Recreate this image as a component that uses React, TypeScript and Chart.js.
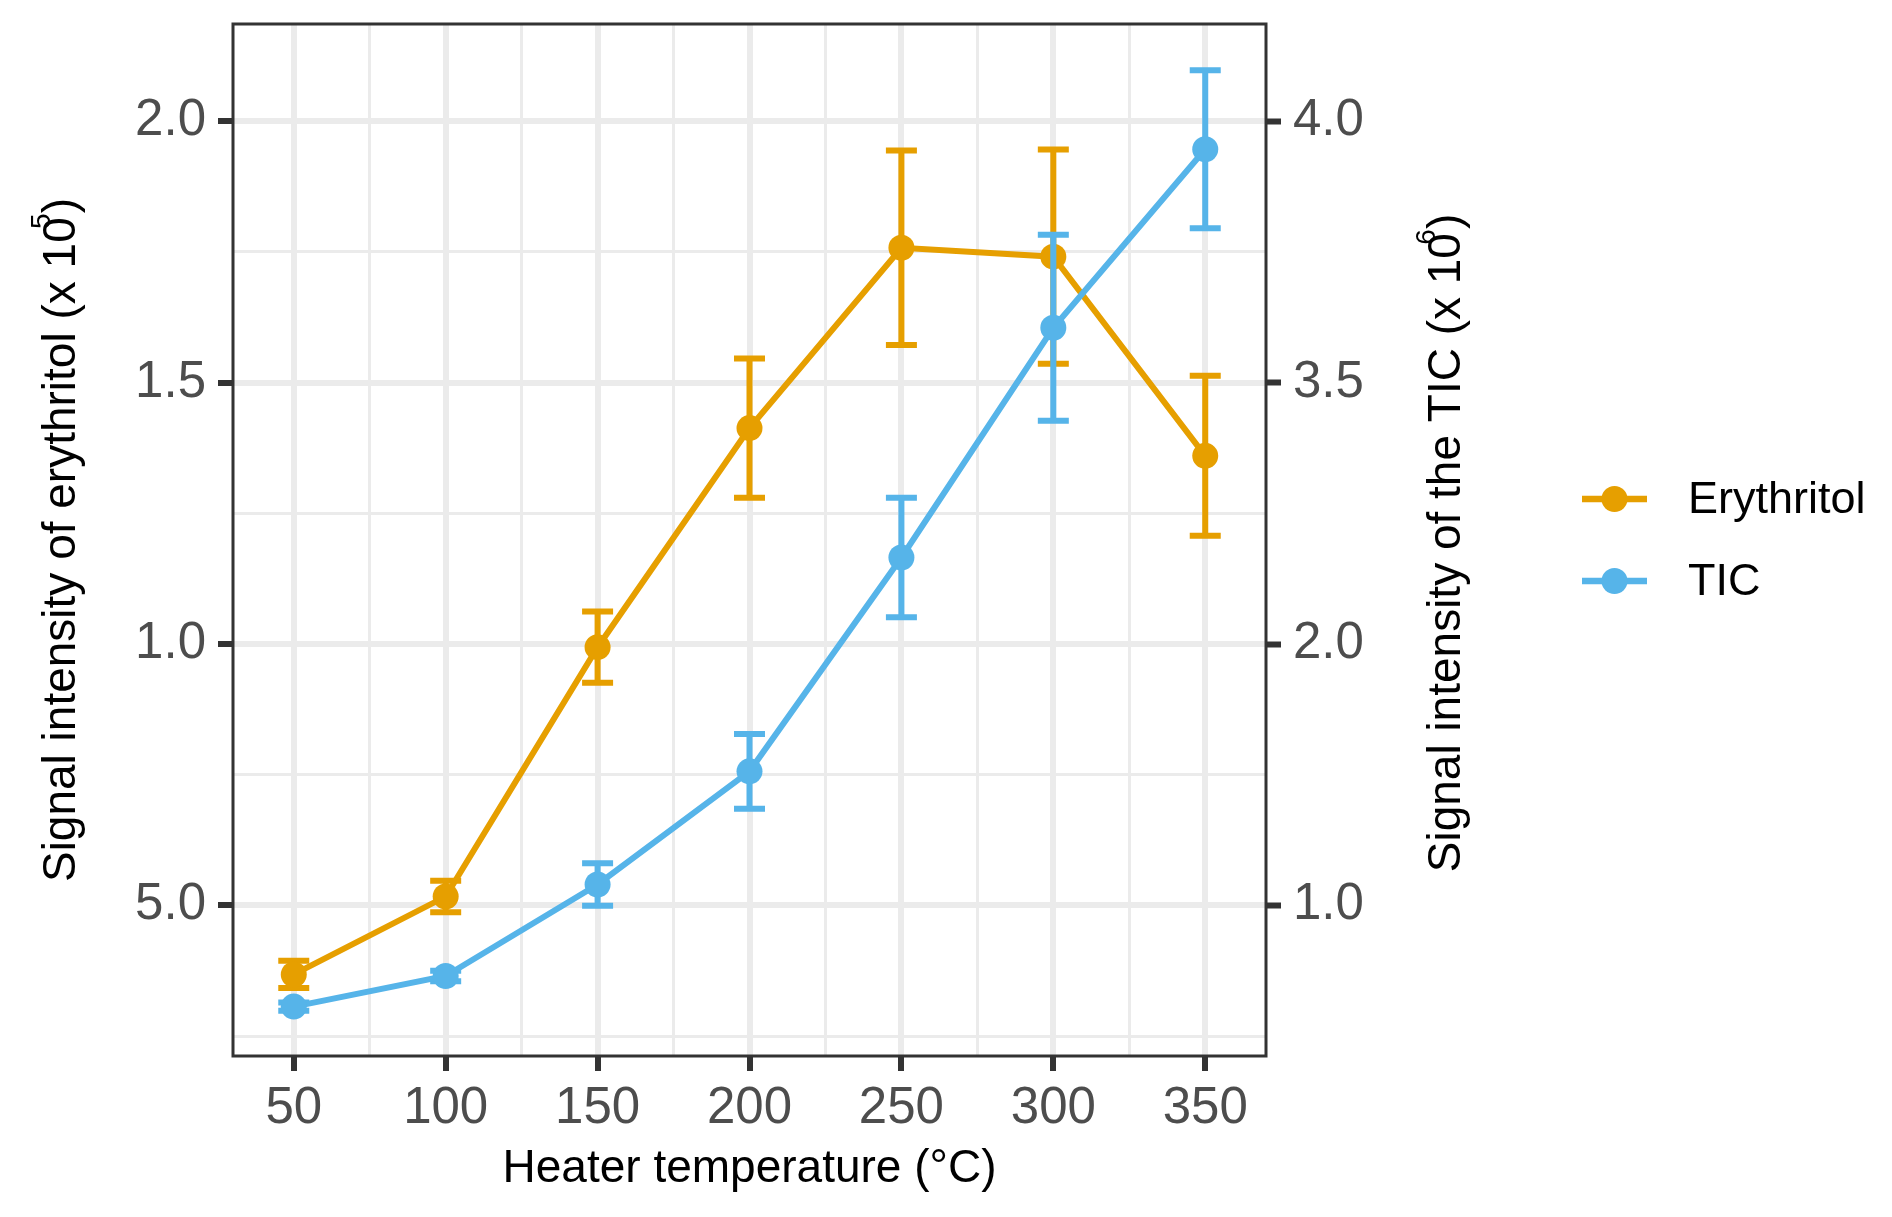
import React, { useEffect, useRef } from "react";
import { Chart, registerables } from "chart.js";

Chart.register(...registerables);

// ---- data ----
const temperatures = [50, 100, 150, 200, 250, 300, 350];
const erythritolMean = [0.368, 0.517, 0.994, 1.413, 1.758, 1.741, 1.36];
const erythritolErr = [0.026, 0.03, 0.068, 0.133, 0.186, 0.205, 0.153];
const ticMean = [0.613, 0.73, 1.08, 1.513, 2.331, 3.21, 3.893];
const ticErr = [0.016, 0.02, 0.081, 0.143, 0.229, 0.356, 0.302];

const seriesNames = ["Erythritol", "TIC"];
const seriesColors = ["#E69F00", "#56B4E9"];

// ---- ticks ----
const xTickValues = [50, 100, 150, 200, 250, 300, 350];
const xTickLabels = ["50", "100", "150", "200", "250", "300", "350"];
const xMinorValues = [75, 125, 175, 225, 275, 325];
const leftTickValues = [0.5, 1.0, 1.5, 2.0];
const leftTickLabels = ["5.0", "1.0", "1.5", "2.0"];
const leftMinorValues = [0.25, 0.75, 1.25, 1.75];
const rightTickValues = [1, 2, 3, 4];
const rightTickLabels = ["1.0", "2.0", "3.5", "4.0"];

const xTitle = "Heater temperature (°C)";
const leftTitle = ["Signal intensity of erythritol (x 10", "5", ")"];
const rightTitle = ["Signal intensity of the TIC (x 10", "6", ")"];

const X_MIN = 30;
const X_MAX = 370;
const LEFT_MIN = 0.212;
const LEFT_MAX = 2.186;
const SEC_FACTOR = 2;

const FONT = '"Liberation Sans", Arial, Helvetica, sans-serif';
const W = 1892;
const H = 1217;

function setTicks(major: number[], minor: number[]) {
  return (scale: any) => {
    scale.ticks = [...major, ...minor]
      .sort((a, b) => a - b)
      .map((v) => ({ value: v }));
  };
}

function labelFor(values: number[], labels: string[]) {
  return (value: any) => {
    const i = values.findIndex((v) => Math.abs(v - Number(value)) < 1e-9);
    return i >= 0 ? labels[i] : "";
  };
}

function isMajor(values: number[], ctx: any) {
  if (!ctx || !ctx.tick) return true;
  return values.some((v) => Math.abs(v - ctx.tick.value) < 1e-9);
}

function zeroPad(s: any) {
  s.paddingTop = 0;
  s.paddingBottom = 0;
  s.paddingLeft = 0;
  s.paddingRight = 0;
}

function drawRotatedTitle(
  ctx: CanvasRenderingContext2D,
  parts: string[],
  baselineX: number,
  centerY: number
) {
  const mainFont = `46px ${FONT}`;
  const supFont = `28px ${FONT}`;
  ctx.save();
  ctx.font = mainFont;
  const wMain = ctx.measureText(parts[0]).width;
  const wTail = ctx.measureText(parts[2]).width;
  ctx.font = supFont;
  const wSup = ctx.measureText(parts[1]).width;
  const gap = 4;
  const total = wMain + gap + wTail;
  ctx.translate(baselineX, centerY);
  ctx.rotate(-Math.PI / 2);
  ctx.textBaseline = "alphabetic";
  ctx.textAlign = "left";
  ctx.fillStyle = "#000000";
  const x = -total / 2;
  ctx.font = mainFont;
  ctx.fillText(parts[0], x, 0);
  ctx.font = supFont;
  ctx.fillText(parts[1], x + wMain - wSup * 0.75, -25);
  ctx.font = mainFont;
  ctx.fillText(parts[2], x + wMain + gap, 0);
  ctx.restore();
}

const errorBarPlugin = {
  id: "errorBars",
  beforeDatasetDraw(chart: any, args: any) {
    const ds = chart.data.datasets[args.index];
    const meta = chart.getDatasetMeta(args.index);
    const xs = chart.scales.x;
    const ys = chart.scales[meta.yAxisID];
    const ctx = chart.ctx;
    ctx.save();
    ctx.strokeStyle = ds.borderColor;
    ctx.lineWidth = 6;
    ctx.lineCap = "butt";
    ds.data.forEach((p: any, j: number) => {
      const e = ds.errors[j];
      const px = xs.getPixelForValue(p.x);
      const yTop = ys.getPixelForValue(p.y + e);
      const yBot = ys.getPixelForValue(p.y - e);
      ctx.beginPath();
      ctx.moveTo(px, yTop);
      ctx.lineTo(px, yBot);
      ctx.moveTo(px - 15.5, yTop);
      ctx.lineTo(px + 15.5, yTop);
      ctx.moveTo(px - 15.5, yBot);
      ctx.lineTo(px + 15.5, yBot);
      ctx.stroke();
    });
    ctx.restore();
  },
};

const decorPlugin = {
  id: "decor",
  afterDraw(chart: any) {
    const ctx: CanvasRenderingContext2D = chart.ctx;
    const a = chart.chartArea;
    // panel border
    ctx.save();
    ctx.strokeStyle = "#333333";
    ctx.lineWidth = 3;
    ctx.strokeRect(a.left, a.top, a.right - a.left, a.bottom - a.top);
    ctx.restore();

    // x title
    ctx.save();
    ctx.font = `46px ${FONT}`;
    ctx.fillStyle = "#000000";
    ctx.textAlign = "center";
    ctx.textBaseline = "alphabetic";
    ctx.fillText(xTitle, (a.left + a.right) / 2, 1182);
    ctx.restore();

    // y titles
    drawRotatedTitle(ctx, leftTitle, 75, 540);
    drawRotatedTitle(ctx, rightTitle, 1460, 543);

    // legend
    const lx = 1582;
    const ly = [499, 581];
    ctx.save();
    seriesNames.forEach((name, i) => {
      const y = ly[i];
      ctx.strokeStyle = seriesColors[i];
      ctx.lineWidth = 6.5;
      ctx.beginPath();
      ctx.moveTo(lx, y);
      ctx.lineTo(lx + 65, y);
      ctx.stroke();
      ctx.fillStyle = seriesColors[i];
      ctx.beginPath();
      ctx.arc(lx + 32.5, y, 13, 0, Math.PI * 2);
      ctx.fill();
      ctx.fillStyle = "#000000";
      ctx.font = `45px ${FONT}`;
      ctx.textAlign = "left";
      ctx.textBaseline = "middle";
      ctx.fillText(name, lx + 106, y + 2);
    });
    ctx.restore();
  },
};

export default function App() {
  const ref = useRef<HTMLCanvasElement | null>(null);

  useEffect(() => {
    document.body.style.margin = "0";
    const canvas = ref.current;
    if (!canvas) return;

    const tickFont = { family: FONT, size: 51 };
    const tickColor = "#4D4D4D";

    const makeDataset = (i: number, means: number[], errs: number[], axis: string, order: number) =>
      ({
        label: seriesNames[i],
        data: temperatures.map((t, j) => ({ x: t, y: means[j] })),
        errors: errs,
        yAxisID: axis,
        borderColor: seriesColors[i],
        backgroundColor: seriesColors[i],
        pointBackgroundColor: seriesColors[i],
        pointBorderWidth: 0,
        pointRadius: 13,
        pointHoverRadius: 13,
        borderWidth: 6,
        tension: 0,
        order,
      } as any);

    const chart = new Chart(canvas, {
      type: "line",
      data: {
        datasets: [
          makeDataset(0, erythritolMean, erythritolErr, "y", 2),
          makeDataset(1, ticMean, ticErr, "y2", 1),
        ],
      },
      options: {
        animation: false,
        responsive: false,
        events: [],
        layout: { padding: { top: 24, left: 0, right: 0, bottom: 0 } },
        plugins: {
          legend: { display: false },
          tooltip: { enabled: false },
          title: { display: false },
        },
        scales: {
          x: {
            type: "linear",
            position: "bottom",
            min: X_MIN,
            max: X_MAX,
            afterBuildTicks: setTicks(xTickValues, xMinorValues),
            afterFit: (s: any) => {
              s.height = H - 1056;
              zeroPad(s);
            },
            ticks: {
              callback: labelFor(xTickValues, xTickLabels),
              font: tickFont,
              color: tickColor,
              padding: 7,
              autoSkip: false,
              maxRotation: 0,
              minRotation: 0,
            },
            grid: {
              color: "#EBEBEB",
              lineWidth: (ctx: any) => (isMajor(xTickValues, ctx) ? 6 : 3),
              drawTicks: true,
              tickLength: 15,
              tickWidth: 6,
              tickColor: (ctx: any) =>
                isMajor(xTickValues, ctx) ? "#333333" : "rgba(0,0,0,0)",
            },
            border: { display: false },
          },
          y: {
            type: "linear",
            position: "left",
            min: LEFT_MIN,
            max: LEFT_MAX,
            afterBuildTicks: setTicks(leftTickValues, leftMinorValues),
            afterFit: (s: any) => {
              s.width = 233;
              zeroPad(s);
            },
            ticks: {
              callback: labelFor(leftTickValues, leftTickLabels),
              font: tickFont,
              color: tickColor,
              padding: 12,
              autoSkip: false,
            },
            grid: {
              color: "#EBEBEB",
              lineWidth: (ctx: any) => (isMajor(leftTickValues, ctx) ? 6 : 3),
              drawTicks: true,
              tickLength: 15,
              tickWidth: 6,
              tickColor: (ctx: any) =>
                isMajor(leftTickValues, ctx) ? "#333333" : "rgba(0,0,0,0)",
            },
            border: { display: false },
          },
          y2: {
            type: "linear",
            position: "right",
            min: LEFT_MIN * SEC_FACTOR,
            max: LEFT_MAX * SEC_FACTOR,
            afterBuildTicks: setTicks(rightTickValues, []),
            afterFit: (s: any) => {
              s.width = W - 1266;
              zeroPad(s);
            },
            ticks: {
              callback: labelFor(rightTickValues, rightTickLabels),
              font: tickFont,
              color: tickColor,
              padding: 12,
              autoSkip: false,
            },
            grid: {
              drawOnChartArea: false,
              drawTicks: true,
              tickLength: 15,
              tickWidth: 6,
              tickColor: "#333333",
            },
            border: { display: false },
          },
        },
      } as any,
      plugins: [errorBarPlugin, decorPlugin],
    });

    return () => {
      chart.destroy();
    };
  }, []);

  return (
    <div style={{ width: W, height: H, background: "#ffffff" }}>
      <canvas
        ref={ref}
        width={W}
        height={H}
        style={{ width: W, height: H, display: "block" }}
      />
    </div>
  );
}
